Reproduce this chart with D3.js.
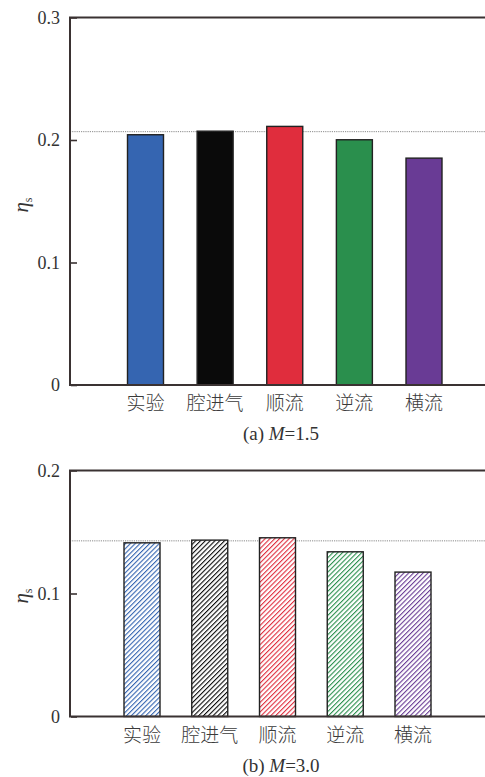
<!DOCTYPE html>
<html>
<head>
<meta charset="utf-8">
<script src="https://cdn.jsdelivr.net/npm/d3@7"></script>
<style>
  body { margin: 0; background: #fff; }
  svg { display: block; }
</style>
</head>
<body>
<svg width="485" height="777"></svg>
<script>
const CATEGORIES = ['实验', '腔进气', '顺流', '逆流', '横流'];
const COLORS = ['#3565b1', '#0a0a0a', '#e02d3d', '#2a8f4d', '#693b95'];

const VALUES_A = [0.2043, 0.2072, 0.2111, 0.2002, 0.1852];
const REF_A = 0.2068;
const TICKS_A = [0, 0.1, 0.2, 0.3];

const VALUES_B = [0.1412, 0.1434, 0.1453, 0.1339, 0.1174];
const REF_B = 0.1428;
const TICKS_B = [0, 0.1, 0.2];

const AXIS_COLOR = '#3a3232';
const svg = d3.select('svg');

// hatch patterns for panel (b)
const defs = svg.append('defs');
COLORS.forEach((c, i) => {
  const p = defs.append('pattern')
    .attr('id', 'hatch' + i)
    .attr('patternUnits', 'userSpaceOnUse')
    .attr('width', 3.4)
    .attr('height', 3.4)
    .attr('patternTransform', 'rotate(45)');
  p.append('rect').attr('width', 3.4).attr('height', 3.4).attr('fill', '#fff');
  p.append('line')
    .attr('x1', 0).attr('y1', 0).attr('x2', 0).attr('y2', 3.4)
    .attr('stroke', c)
    .attr('stroke-width', 2.2);
});

function drawPanel(opts) {
  const { values, ref, ticks, top, bottom, xRange, hatched, caption, labelY, captionY } = opts;
  const left = 70;
  const right = 485;

  const x = d3.scalePoint().domain(CATEGORIES).range(xRange);
  const y = d3.scaleLinear().domain([0, ticks[ticks.length - 1]]).range([bottom, top]);
  const barW = 36;

  const g = svg.append('g');

  // reference dotted line
  g.append('line')
    .attr('x1', left).attr('x2', right)
    .attr('y1', y(ref)).attr('y2', y(ref))
    .attr('stroke', '#8a8a8a')
    .attr('stroke-width', 1)
    .attr('stroke-dasharray', '1.2,1');

  g.selectAll('.bar')
    .data(values)
    .join('rect')
    .attr('class', 'bar')
    .attr('x', (d, i) => x(CATEGORIES[i]) - barW / 2)
    .attr('y', (d) => y(d))
    .attr('width', barW)
    .attr('height', (d) => bottom - y(d))
    .attr('fill', (d, i) => hatched ? `url(#hatch${i})` : COLORS[i])
    .attr('stroke', '#222')
    .attr('stroke-width', 1.4);

  // left axis with inward ticks
  const yAxis = g.append('g')
    .attr('transform', `translate(${left},0)`)
    .call(d3.axisLeft(y).tickValues(ticks).tickSize(-7).tickPadding(14)
      .tickFormat((d) => d === 0 ? '0' : d3.format('.1f')(d)));
  yAxis.select('.domain').remove();
  yAxis.selectAll('.tick line')
    .attr('stroke', AXIS_COLOR)
    .attr('stroke-width', 1.6)
    .attr('x1', 1);
  yAxis.selectAll('.tick text')
    .attr('font-family', '"Liberation Serif", serif')
    .attr('font-size', 18)
    .attr('fill', '#333')
    .attr('dx', 4);

  // frame: left, bottom, top
  g.append('path')
    .attr('d', `M${right},${top}H${left}V${bottom}H${right}`)
    .attr('fill', 'none')
    .attr('stroke', AXIS_COLOR)
    .attr('stroke-width', 2);

  // category labels
  g.selectAll('.cat')
    .data(CATEGORIES)
    .join('text')
    .attr('class', 'cat')
    .attr('x', (d) => x(d))
    .attr('y', bottom + 25)
    .attr('text-anchor', 'middle')
    .attr('font-family', '"Noto Sans CJK SC", sans-serif')
    .attr('font-size', 19)
    .attr('font-weight', 300)
    .attr('fill', '#3a3a3a')
    .text((d) => d);

  // y label
  const yl = g.append('text')
    .attr('transform', `translate(28,${labelY}) rotate(-90)`)
    .attr('text-anchor', 'middle')
    .attr('font-family', '"Liberation Serif", serif')
    .attr('fill', '#333');
  yl.append('tspan').attr('font-style', 'italic').attr('font-size', 21).text('η');
  yl.append('tspan').attr('font-size', 12).attr('dy', 4).text('s');

  // caption
  const cap = g.append('text')
    .attr('x', 281)
    .attr('y', captionY)
    .attr('text-anchor', 'middle')
    .attr('font-family', '"Liberation Serif", serif')
    .attr('font-size', 19)
    .attr('fill', '#333');
  cap.append('tspan').text(caption[0] + ' ');
  cap.append('tspan').attr('font-style', 'italic').text('M');
  cap.append('tspan').text(caption[1]);
}

drawPanel({
  values: VALUES_A, ref: REF_A, ticks: TICKS_A,
  top: 17.5, bottom: 385, xRange: [145.5, 424],
  hatched: false, caption: ['(a)', '=1.5'], labelY: 205, captionY: 440
});

drawPanel({
  values: VALUES_B, ref: REF_B, ticks: TICKS_B,
  top: 470.5, bottom: 716.5, xRange: [142, 413],
  hatched: true, caption: ['(b)', '=3.0'], labelY: 596, captionY: 772
});
</script>
</body>
</html>
